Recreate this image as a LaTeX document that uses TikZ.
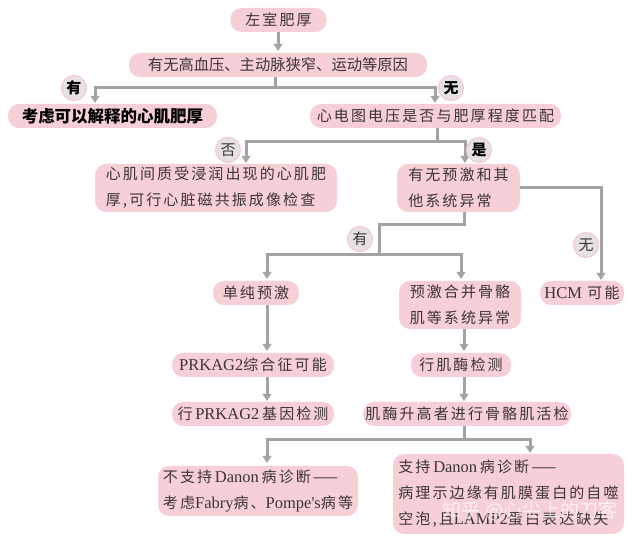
\documentclass[tikz,border=0pt]{standalone}
\usepackage{fontspec}
\setmainfont{Noto Sans CJK SC}
\newfontfamily\lat{Liberation Serif}[Scale=1.1]
\newfontfamily\wide{Noto Sans CJK SC}[LetterSpace=14]
\usetikzlibrary{arrows.meta}
\definecolor{pinkbox}{HTML}{F6D0D6}
\definecolor{linegrey}{HTML}{A3A3A3}
\definecolor{inkc}{HTML}{3C3436}
\definecolor{circfill}{HTML}{E6E2E3}
\definecolor{circline}{HTML}{F3CDD3}
\tikzset{
  box/.style={fill=pinkbox,rounded corners=11pt,inner sep=0pt,text=inkc,
    font=\fontsize{15}{26}\selectfont\wide,align=left},
  tag/.style={circle,fill=circfill,draw=circline,line width=1.2pt,minimum size=25pt,inner sep=0pt,text=inkc,
    font=\fontsize{15}{15}\selectfont},
  boldtag/.style={tag,text=black,font=\fontsize{15}{15}\selectfont\bfseries},
  heavy/.style={text=black,font=\fontsize{16.5}{26}\selectfont\bfseries},
  conn/.style={draw=linegrey,line width=3pt},
  arr/.style={conn,-{Triangle[length=7pt,width=8.5pt]}}
}
\begin{document}
\begin{tikzpicture}[x=1pt,y=-1pt]
\useasboundingbox (0,0) rectangle (633,537);
\fill[white] (0,0) rectangle (633,537);
% boxes
\node[box,minimum width=96pt,minimum height=24pt] (a) at (278.5,20) {左室肥厚};
\node[box,minimum width=298pt,minimum height=24pt,font=\fontsize{15.3}{26}\selectfont] (b) at (278,65) {有无高血压、主动脉狭窄、运动等原因};
\node[box,minimum width=209pt,minimum height=24pt,heavy] (c) at (112.5,116) {考虑可以解释的心肌肥厚};
\node[box,minimum width=251pt,minimum height=24pt] (d) at (435.5,116) {心电图电压是否与肥厚程度匹配};
\node[box,minimum width=242pt,minimum height=48pt] (e) at (216,188) {心肌间质受浸润出现的心肌肥\\厚,可行心脏磁共振成像检查};
\node[box,minimum width=123pt,minimum height=48pt] (f) at (458.5,188) {有无预激和其\\他系统异常};
\node[box,minimum width=86pt,minimum height=24pt] (g) at (256,293) {单纯预激};
\node[box,minimum width=122pt,minimum height=48pt] (h) at (460,305) {预激合并骨骼\\肌等系统异常};
\node[box,minimum width=84pt,minimum height=24pt] (i) at (582,293) {{\lat HCM} 可能};
\node[box,minimum width=162pt,minimum height=24pt] (j) at (253,365) {{\lat PRKAG2}综合征可能};
\node[box,minimum width=162pt,minimum height=24pt] (k) at (253,414) {行{\lat\,PRKAG2\,}基因检测};
\node[box,minimum width=100pt,minimum height=24pt] (l) at (461,365) {行肌酶检测};
\node[box,minimum width=208pt,minimum height=24pt] (m) at (467,414) {肌酶升高者进行骨骼肌活检};
\node[box,minimum width=200pt,minimum height=50pt] (n) at (258,491) {不支持{\lat\,Danon\,}病诊断——\\考虑{\lat Fabry}病、{\lat Pompe's}病等};
\node[box,minimum width=231pt,minimum height=80pt] (o) at (508.5,494) {支持{\lat\,Danon\,}病诊断——\\病理示边缘有肌膜蛋白的自噬\\空泡,且{\lat LAMP2}蛋白表达缺失};
% junctions
\coordinate (j1) at (275,88);
\coordinate (j2) at (437,142);
\coordinate (j3) at (379,225);
\coordinate (j4) at (379,255);
\coordinate (j5) at (464,440);
\coordinate (t1) at (95,103);
\coordinate (t2) at (435,103);
\coordinate (t3) at (246,163);
\coordinate (t4) at (465,163);
\coordinate (t5) at (267,279);
\coordinate (t6) at (461,279);
\coordinate (t7) at (267,463);
\coordinate (t8) at (530,453);
\coordinate (t9) at (601,280);
\coordinate (s1) at (464,212);
\coordinate (s2) at (267,305);
\coordinate (s3) at (267,351);
\coordinate (s4) at (464,329);
\coordinate (s5) at (464,351);
\coordinate (s6) at (267,377);
\coordinate (s7) at (267,401);
\coordinate (s8) at (464,377);
\coordinate (s9) at (464,401);
\coordinate (s10) at (464,426);
\coordinate (s11) at (278,32);
\coordinate (s12) at (278,51);
\coordinate (s13) at (275,77);
\coordinate (s14) at (437,128);
% connectors
\draw[arr] (s11) -- (s12);
\draw[conn] (s13) -- (j1);
\draw[arr] (j1) -| (t1);
\draw[arr] (j1) -| (t2);
\draw[conn] (s14) -- (j2);
\draw[arr] (j2) -| (t3);
\draw[arr] (j2) -| (t4);
\draw[arr] (f.east) -| (t9);
\draw[conn] (s1) |- (j3) -- (j4);
\draw[arr] (j4) -| (t5);
\draw[arr] (j4) -| (t6);
\draw[arr] (s2) -- (s3);
\draw[arr] (s4) -- (s5);
\draw[arr] (s6) -- (s7);
\draw[arr] (s8) -- (s9);
\draw[conn] (s10) -- (j5);
\draw[arr] (j5) -| (t7);
\draw[arr] (j5) -| (t8);
% tags
\node[boldtag] (y1) at (74,88) {有};
\node[boldtag] (w1) at (451,88) {无};
\node[tag] (no) at (228,150) {否};
\node[boldtag] (yes) at (479,150) {是};
\node[tag] (y2) at (360,239) {有};
\node[tag] (w2) at (586,245) {无};
% watermark
\node[text=white,opacity=0.7,font=\fontsize{19}{19}\selectfont,inner sep=0pt] (wm) at (530,511) {知乎 @心尖上的刀客};
\end{tikzpicture}
\end{document}
